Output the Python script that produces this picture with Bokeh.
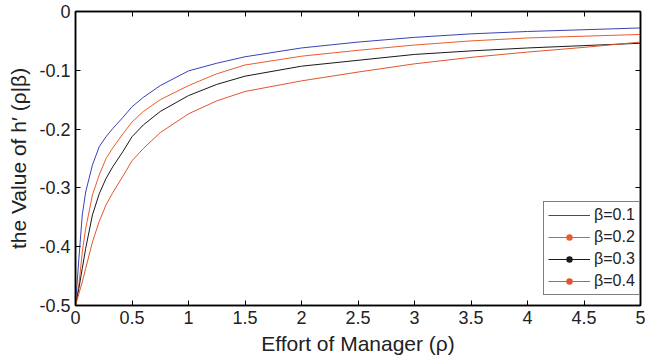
from bokeh.plotting import figure
from bokeh.models import (Range1d, FixedTicker, LinearAxis, Legend, LegendItem,
                          ColumnDataSource, CDSView, IndexFilter)
from bokeh.embed import file_html
from bokeh.resources import INLINE

# ---- data ----
rho = [0, 0.03, 0.06, 0.09, 0.15, 0.21, 0.27, 0.33, 0.42, 0.5, 0.6, 0.75,
       1.0, 1.25, 1.5, 2.0, 2.5, 3.0, 3.5, 4.0, 4.5, 5.0]
h_beta01 = [-0.5, -0.420, -0.346, -0.307, -0.261, -0.230, -0.213, -0.199, -0.180, -0.162, -0.146, -0.126,
            -0.101, -0.088, -0.077, -0.062, -0.052, -0.044, -0.038, -0.034, -0.031, -0.028]
h_beta02 = [-0.5, -0.465, -0.409, -0.369, -0.312, -0.278, -0.250, -0.232, -0.208, -0.188, -0.170, -0.150,
            -0.126, -0.106, -0.091, -0.076, -0.066, -0.057, -0.050, -0.045, -0.042, -0.039]
h_beta03 = [-0.5, -0.471, -0.437, -0.403, -0.346, -0.310, -0.284, -0.264, -0.238, -0.213, -0.193, -0.170,
            -0.143, -0.124, -0.110, -0.093, -0.083, -0.073, -0.067, -0.062, -0.058, -0.054]
h_beta04 = [-0.5, -0.480, -0.460, -0.437, -0.392, -0.357, -0.329, -0.308, -0.280, -0.254, -0.233, -0.206,
            -0.174, -0.152, -0.136, -0.118, -0.103, -0.089, -0.078, -0.069, -0.061, -0.052]

series_labels = ["β=0.1", "β=0.2", "β=0.3", "β=0.4"]
series_values = [h_beta01, h_beta02, h_beta03, h_beta04]
series_colors = ["#3a42b2", "#ea5c2e", "#1a1a1a", "#e0562a"]
series_markers = [False, True, True, True]

x_ticks = [0, 0.5, 1, 1.5, 2, 2.5, 3, 3.5, 4, 4.5, 5]
x_tick_labels = ["0", "0.5", "1", "1.5", "2", "2.5", "3", "3.5", "4", "4.5", "5"]
y_ticks = [-0.5, -0.4, -0.3, -0.2, -0.1, 0]
y_tick_labels = ["-0.5", "-0.4", "-0.3", "-0.2", "-0.1", "0"]

x_label = "Effort of Manager (ρ)"
y_label = "the Value of h\u2032 (ρ|β)"

FONT = "Liberation Sans"
TXT = "#222222"

p = figure(frame_width=565, frame_height=294, output_backend="svg", toolbar_location=None,
           x_range=Range1d(0, 5), y_range=Range1d(-0.5, 0),
           min_border_left=75, min_border_right=6, min_border_top=11, min_border_bottom=52,
           x_axis_label=x_label, y_axis_label=y_label)
p.xgrid.visible = False
p.ygrid.visible = False
p.outline_line_color = "black"
p.outline_line_width = 1.5
p.background_fill_color = "white"
p.border_fill_color = "white"

# box axes (top/right): inward ticks only, labels not drawn
top_ax = LinearAxis()
right_ax = LinearAxis()
p.add_layout(top_ax, "above")
p.add_layout(right_ax, "right")

for ax in p.xaxis:
    ax.ticker = FixedTicker(ticks=x_ticks)
    ax.major_label_overrides = {t: l for t, l in zip(x_ticks, x_tick_labels)}
for ax in p.yaxis:
    ax.ticker = FixedTicker(ticks=y_ticks)
    ax.major_label_overrides = {t: l for t, l in zip(y_ticks, y_tick_labels)}

for ax in p.axis:
    ax.major_tick_in = 5
    ax.major_tick_out = 0
    ax.minor_tick_line_color = None
    ax.axis_line_color = "black"
    ax.axis_line_width = 1.5
    ax.major_tick_line_color = "black"
    ax.major_tick_line_width = 1
    ax.major_label_text_font = FONT
    ax.major_label_text_font_size = "18px"
    ax.major_label_text_color = TXT
    ax.major_label_standoff = 5
    ax.axis_label_text_font = FONT
    ax.axis_label_text_font_size = "21px"
    ax.axis_label_text_font_style = "normal"
    ax.axis_label_text_color = TXT

for ax in (top_ax, right_ax):
    ax.major_label_text_color = None
    ax.major_label_text_font_size = "1px"
    ax.major_label_standoff = 0
p.yaxis[0].axis_label_standoff = 6
p.xaxis[0].major_label_standoff = 6
p.xaxis[0].axis_label_standoff = 1

items = []
for lab, vals, col, mk in zip(series_labels, series_values, series_colors, series_markers):
    src = ColumnDataSource(dict(x=rho, y=vals))
    r = p.line("x", "y", source=src, line_color=col, line_width=1)
    rends = [r]
    if mk:
        # zero-size marker on the plot; the legend draws its own dot
        s = p.scatter("x", "y", source=src, view=CDSView(filter=IndexFilter(indices=[0])),
                      size=0, fill_color=col, line_color=None)
        rends.append(s)
    items.append(LegendItem(label=lab, renderers=rends))

legend = Legend(items=items, location=(468, 10))
legend.border_line_color = "black"
legend.border_line_width = 1
legend.background_fill_color = "white"
legend.background_fill_alpha = 1
legend.label_text_font = FONT
legend.label_text_font_size = "16px"
legend.label_text_color = TXT
legend.glyph_width = 42
legend.glyph_height = 16
legend.label_height = 16
legend.label_standoff = 4
legend.padding = 4
legend.spacing = 4
legend.margin = 0
p.add_layout(legend, "center")

open("out.html", "w").write(file_html(p, INLINE))
